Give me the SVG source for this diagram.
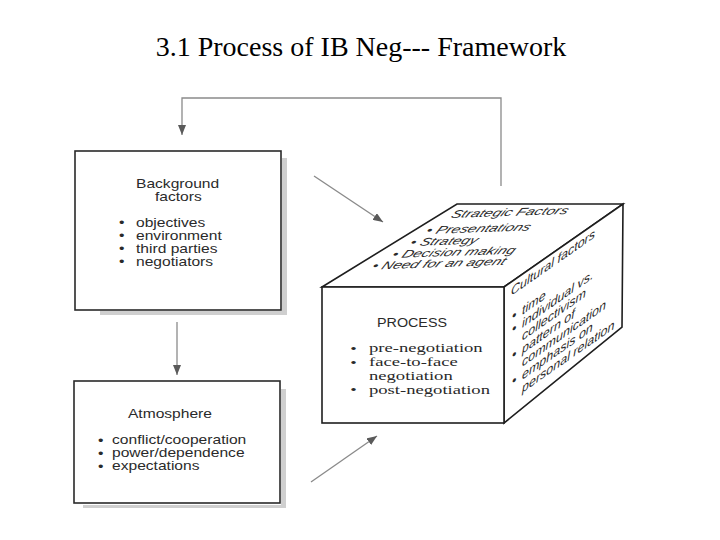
<svg xmlns="http://www.w3.org/2000/svg" width="720" height="540" viewBox="0 0 720 540">
<style>
.box{fill:#fff;stroke:#2a2a2a;stroke-width:1.6}
.shadow{fill:#cfcfcf}
.conn{fill:none;stroke:#8a8a8a;stroke-width:1.3}
.cube{fill:#fff;stroke:#1e1e1e;stroke-width:1.6;stroke-linejoin:miter}
.sans{font-family:"Liberation Sans",Arial,sans-serif;fill:#2a2a2a}
.serif{font-family:"Liberation Serif","Times New Roman",serif;fill:#2a2a2a}
.bt{font-size:13px}
.top{font-size:11px;font-style:italic}
.side{font-size:12.5px;font-style:italic}
</style>
<defs>
<marker id="ah" markerUnits="userSpaceOnUse" markerWidth="10" markerHeight="8" refX="10" refY="4" orient="auto">
<path d="M0,0 L10,4 L0,8 z" fill="#5a5a5a"/>
</marker>
</defs>
<text x="361" y="56" font-family="Liberation Serif,Times New Roman,serif" font-size="28" text-anchor="middle" fill="#000">3.1 Process of IB Neg--- Framework</text>
<g id="connectors">
<polyline class="conn" points="501,186 501,98 182,98 182,135" marker-end="url(#ah)"/>
<line class="conn" x1="177" y1="322" x2="177" y2="375" marker-end="url(#ah)"/>
<line class="conn" x1="314" y1="176" x2="383" y2="222" marker-end="url(#ah)"/>
<line class="conn" x1="311" y1="482" x2="377" y2="436" marker-end="url(#ah)"/>
</g>
<g id="background">
<rect class="shadow" x="282" y="158" width="5" height="157"/>
<rect class="shadow" x="100" y="311" width="187" height="4"/>
<rect class="box" x="75" y="151" width="206" height="159"/>
<text class="sans bt" transform="translate(136,0) scale(1.2,1)"><tspan x="0" y="188">Background</tspan><tspan x="15.8" y="201.5">factors</tspan></text>
<text class="sans bt" transform="translate(136,0) scale(1.2,1)"><tspan x="-14.2" y="227.5">•</tspan><tspan x="0" y="227">objectives</tspan><tspan x="-14.2" y="240.5">•</tspan><tspan x="0" y="240">environment</tspan><tspan x="-14.2" y="253.5">•</tspan><tspan x="0" y="253.3">third parties</tspan><tspan x="-14.2" y="266.5">•</tspan><tspan x="0" y="266.5">negotiators</tspan></text>
</g>
<g id="atmosphere">
<rect class="shadow" x="281" y="389" width="5" height="118"/>
<rect class="shadow" x="83" y="505" width="203" height="3"/>
<rect class="box" x="74" y="381" width="206" height="122"/>
<text class="sans bt" transform="translate(112,0) scale(1.2,1)" x="13.3" y="418">Atmosphere</text>
<text class="sans bt" transform="translate(112,0) scale(1.2,1)"><tspan x="-11.7" y="445">•</tspan><tspan x="0" y="444">conflict/cooperation</tspan><tspan x="-11.7" y="458">•</tspan><tspan x="0" y="457">power/dependence</tspan><tspan x="-11.7" y="471">•</tspan><tspan x="0" y="470">expectations</tspan></text>
</g>
<g id="process-cube">
<polygon class="cube" points="322,287 457,204 623,204 504,287"/>
<polygon class="cube" points="504,287 623,204 622,327 504,423"/>
<rect class="cube" x="322" y="287" width="182" height="136"/>
<g id="strategic-factors">
<text class="sans top" transform="matrix(1.4,-0.049,-0.55,1,0,0)"><tspan x="415.1" y="238.3">Strategic Factors</tspan><tspan x="403.3" y="253.8">• Presentations</tspan><tspan x="396.4" y="265.4">• Strategy</tspan><tspan x="388.1" y="277">• Decision making</tspan><tspan x="378.1" y="288">• Need for an agent</tspan></text>
</g>
<g id="cultural-factors">
<text class="sans side" transform="skewY(-35)"><tspan x="511" y="653.8">Cultural factors</tspan><tspan x="512" y="679.5">•</tspan><tspan x="522" y="680.5">time</tspan><tspan x="512" y="692.5">•</tspan><tspan x="522" y="693.5">individual vs.</tspan><tspan x="522" y="706.5">collectivism</tspan><tspan x="512" y="718.5">•</tspan><tspan x="522" y="719.5">pattern of</tspan><tspan x="522" y="732.5">communication</tspan><tspan x="512" y="744.5">•</tspan><tspan x="522" y="745.5">emphasis on</tspan><tspan x="522" y="758.5">personal relation</tspan></text>
</g>
<g id="process">
<text class="sans" x="377" y="327" font-size="12" textLength="70" lengthAdjust="spacingAndGlyphs">PROCESS</text>
<text class="serif" font-size="13.5" transform="translate(369,0) scale(1.38,1)"><tspan x="-13.5" y="353.3">•</tspan><tspan x="0" y="352.5">pre-negotiation</tspan><tspan x="-13.5" y="367">•</tspan><tspan x="0" y="366.2">face-to-face</tspan><tspan x="0" y="379.9">negotiation</tspan><tspan x="-13.5" y="394.4">•</tspan><tspan x="0" y="393.6">post-negotiation</tspan></text>
</g>
</g>
</svg>
